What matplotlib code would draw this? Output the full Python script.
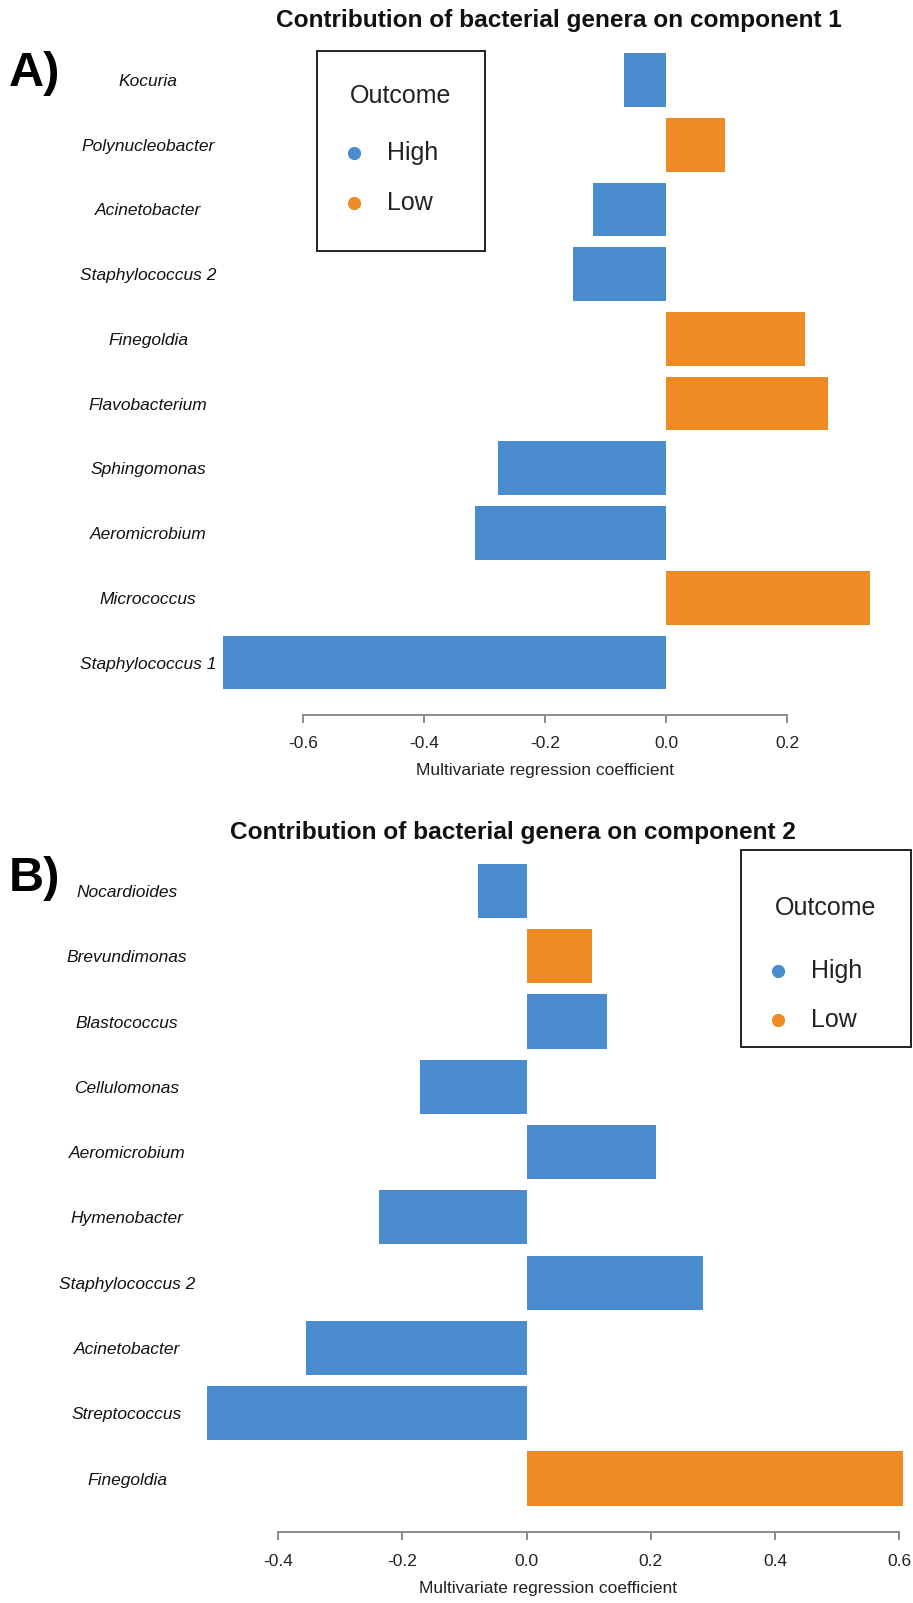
import numpy as np
import matplotlib
matplotlib.use("Agg")
import matplotlib.pyplot as plt
from matplotlib.lines import Line2D
from matplotlib.patches import Rectangle

# ---------------- data ----------------
genera_c1 = ["Kocuria", "Polynucleobacter", "Acinetobacter", "Staphylococcus 2",
             "Finegoldia", "Flavobacterium", "Sphingomonas", "Aeromicrobium",
             "Micrococcus", "Staphylococcus 1"]
coef_c1 = [-0.070, 0.098, -0.120, -0.153, 0.230, 0.268, -0.278, -0.315, 0.338, -0.733]
outcome_c1 = ["High", "Low", "High", "High", "Low", "Low", "High", "High", "Low", "High"]

genera_c2 = ["Nocardioides", "Brevundimonas", "Blastococcus", "Cellulomonas",
             "Aeromicrobium", "Hymenobacter", "Staphylococcus 2", "Acinetobacter",
             "Streptococcus", "Finegoldia"]
coef_c2 = [-0.078, 0.105, 0.130, -0.171, 0.208, -0.237, 0.284, -0.354, -0.514, 0.605]
outcome_c2 = ["High", "Low", "High", "High", "High", "High", "High", "High", "High", "Low"]

xticks_c1 = [-0.6, -0.4, -0.2, 0.0, 0.2]
xticks_c2 = [-0.4, -0.2, 0.0, 0.2, 0.4, 0.6]

outcome_levels = ["High", "Low"]
outcome_colors = {"High": "#4A8CCE", "Low": "#EE8B22"}

title_c1 = "Contribution of bacterial genera on component 1"
title_c2 = "Contribution of bacterial genera on component 2"
xlabel = "Multivariate regression coefficient"

# ---------------- layout ----------------
W, H = 913, 1603
plt.rcParams['font.family'] = ['Liberation Sans', 'DejaVu Sans']

fig = plt.figure(figsize=(W / 100, H / 100), dpi=100)


def fx(x):
    return x / W


def fy(y):
    return 1 - y / H


def panel(genera, coef, outcome, xticks, xlim, zero_px, scale_px,
          center_top_px, center_bot_px, axis_px, top_px, label_cx,
          title, title_xy, letter, letter_y, legend_box, legend_rows):
    n = len(genera)
    pitch = (center_bot_px - center_top_px) / (n - 1)
    left_px = zero_px + xlim[0] * scale_px
    right_px = zero_px + xlim[1] * scale_px
    ylo = -(axis_px - center_bot_px) / pitch
    yhi = (n - 1) + (center_top_px - top_px) / pitch
    ax = fig.add_axes([fx(left_px), fy(axis_px), (right_px - left_px) / W,
                       (axis_px - top_px) / H])
    ypos = np.arange(n)[::-1]
    cols = [outcome_colors[o] for o in outcome]
    ax.barh(ypos, coef, height=0.83, color=cols, edgecolor='none')
    ax.set_xlim(*xlim)
    ax.set_ylim(ylo, yhi)
    for s in ['top', 'right', 'left']:
        ax.spines[s].set_visible(False)
    ax.spines['bottom'].set_bounds(xticks[0], xticks[-1])
    ax.spines['bottom'].set_color('#8a8a8a')
    ax.spines['bottom'].set_linewidth(1.4)
    ax.set_xticks(xticks)
    ax.set_xticklabels(["%.1f" % t for t in xticks])
    ax.tick_params(axis='x', length=5.8, width=1.4, color='#8a8a8a',
                   labelsize=12.5, labelcolor='#222222', pad=10)
    ax.set_yticks(ypos)
    ax.set_yticklabels(genera, style='italic', fontsize=12.5, ha='center',
                       color='#111111')
    ax.tick_params(axis='y', length=0, pad=(left_px - label_cx) * 72 / 100)
    ax.set_xlabel(xlabel, fontsize=12.5, color='#222222', labelpad=8.5)
    ax.patch.set_alpha(0)

    fig.text(fx(title_xy[0]), fy(title_xy[1]), title, ha='center', va='center',
             fontsize=17.6, fontweight='bold', color='#111111')
    fig.text(fx(9), fy(letter_y), letter, ha='left', va='center',
             fontsize=35, fontweight='bold', color='black')

    bl, bt, br, bb = legend_box
    fig.add_artist(Rectangle((fx(bl), fy(bb)), (br - bl) / W, (bb - bt) / H,
                             transform=fig.transFigure, fill=False,
                             edgecolor='#222222', linewidth=1.4))
    y_title, y_rows = legend_rows
    fig.text(fx((bl + br) / 2), fy(y_title), "Outcome", ha='center', va='center',
             fontsize=18, color='#222222')
    for lvl, yy in zip(outcome_levels, y_rows):
        fig.add_artist(Line2D([fx(bl + 36.5)], [fy(yy)], marker='o',
                              markersize=8.5, linestyle='none',
                              color=outcome_colors[lvl],
                              transform=fig.transFigure))
        fig.text(fx(bl + 70), fy(yy), lvl, ha='left', va='center',
                 fontsize=18, color='#222222')
    return ax


panel(genera_c1, coef_c1, outcome_c1, xticks_c1, (-0.76, 0.36),
      zero_px=666, scale_px=605, center_top_px=80, center_bot_px=662.5,
      axis_px=714.5, top_px=40, label_cx=148, title=title_c1,
      title_xy=(559, 21), letter="A)", letter_y=74,
      legend_box=(317, 51, 485, 251), legend_rows=(96, (153, 203)))

panel(genera_c2, coef_c2, outcome_c2, xticks_c2, (-0.55, 0.62),
      zero_px=526.5, scale_px=621.5, center_top_px=891, center_bot_px=1478.5,
      axis_px=1532, top_px=855, label_cx=127, title=title_c2,
      title_xy=(513, 833), letter="B)", letter_y=878,
      legend_box=(741, 850, 911, 1047), legend_rows=(908, (971, 1020)))

fig.savefig("out.png", dpi=100, facecolor='white')
